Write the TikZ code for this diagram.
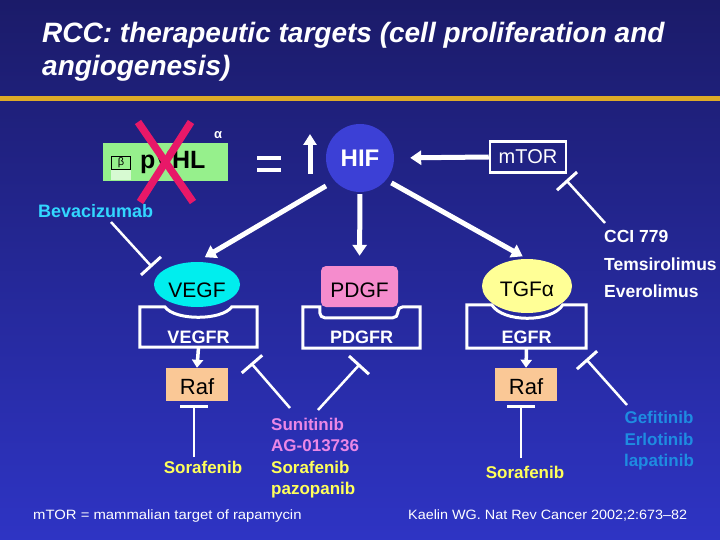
\documentclass[tikz,border=0pt]{standalone}
\usepackage{fontspec}
\setmainfont{Liberation Sans}
\usetikzlibrary{arrows.meta,shapes.geometric}
\definecolor{bgtop}{RGB}{27,27,105}
\definecolor{bgbot}{RGB}{46,52,196}
\definecolor{gold}{RGB}{222,170,40}
\definecolor{vhlgreen}{RGB}{150,240,140}
\definecolor{vhllight}{RGB}{215,250,210}
\definecolor{xred}{RGB}{232,24,104}
\definecolor{hifblue}{RGB}{60,64,214}
\definecolor{vegfcyan}{RGB}{0,238,238}
\definecolor{pdgfpink}{RGB}{245,140,205}
\definecolor{tgfyellow}{RGB}{255,255,150}
\definecolor{rafpeach}{RGB}{250,200,150}
\definecolor{bevcyan}{RGB}{50,215,255}
\definecolor{drugyellow}{RGB}{255,255,90}
\definecolor{drugpink}{RGB}{235,135,230}
\definecolor{drugblue}{RGB}{30,140,225}
\begin{document}
\begin{tikzpicture}[x=1pt,y=-1pt,
  fat/.style={white,line width=5pt,-{Triangle[width=14pt,length=11pt]}},
  small/.style={white,line width=3.5pt,-{Triangle[width=11pt,length=8pt]}},
  inh/.style={white,line width=2.5pt,-{Bar[width=27pt,line width=3pt]}},
  rec/.style={white,line width=3pt,line join=miter},
  lig/.style={inner sep=0pt,font=\fontsize{21}{21}\selectfont,text=black,text depth=0pt},
  rlab/.style={inner sep=0pt,font=\bfseries\fontsize{18}{18}\selectfont,text=white},
  drug/.style={inner sep=0pt,font=\bfseries\fontsize{17}{21}\selectfont,anchor=base west},
  ttl/.style={inner sep=0pt,anchor=base west,text=white,font=\bfseries\itshape\fontsize{28}{30}\selectfont},
  foot/.style={inner sep=0pt,text=white,font=\fontsize{13.5}{14}\selectfont,anchor=base west}]
\useasboundingbox (0,0) rectangle (720,540);
\shade[top color=bgtop,bottom color=bgbot] (0,0) rectangle (720,540);
\fill[gold] (0,96) rectangle (720,101);
% title
\node[ttl] (t1) at (42,43) {RCC: therapeutic targets (cell proliferation and};
\node[ttl] (t2) at (42,76) {angiogenesis)};
% pVHL
\node[fill=vhlgreen,minimum width=125pt,minimum height=38pt,inner sep=0pt] (vhl) at (165.5,162) {};
\fill[vhllight] (111,169) rectangle (131,180);
\node[draw=black,line width=0.8pt,fill=vhlgreen,minimum width=19pt,minimum height=13pt,inner sep=0pt,font=\fontsize{11}{11}\selectfont] (beta) at (121,162.5) {β};
\node[inner sep=0pt,anchor=base west,font=\bfseries\fontsize{25}{25}\selectfont] (vtxt) at (140,169) {pVHL};
\node[inner sep=0pt,text=white,font=\bfseries\fontsize{13}{13}\selectfont] (alpha) at (218,135) {α};
\coordinate (x1) at (138,122); \coordinate (x2) at (193,202);
\coordinate (x3) at (191,122); \coordinate (x4) at (140,202);
\draw[xred,line width=7.5pt] (x1) -- (x2);
\draw[xred,line width=7.5pt] (x3) -- (x4);
% equals and up arrow
\fill[white] (257,156) rectangle (281,160);
\fill[white] (257,168) rectangle (281,172);
\coordinate (ua1) at (310,174); \coordinate (ua2) at (310,134);
\draw[white,line width=5pt,-{Triangle[width=13pt,length=11pt]}] (ua1) -- (ua2);
% HIF and mTOR
\node[circle,fill=hifblue,minimum size=68pt,inner sep=0pt,text=white,font=\bfseries\fontsize{24}{24}\selectfont] (hif) at (360,158) {HIF};
\node[draw=white,line width=2.5pt,minimum width=76pt,minimum height=31pt,inner sep=0pt,text=white,font=\fontsize{20}{20}\selectfont] (mtor) at (528,157) {mTOR};
\draw[fat,shorten >=16pt] (mtor.west) -- (hif.east);
% receptors
\node[minimum width=117pt,minimum height=40pt,inner sep=0pt] (vegfr) at (198.5,327) {};
\draw[rec] (vegfr.north west) -- ++(25,0) .. controls +(10,14) and +(-10,14) .. ++(67,0) -- (vegfr.north east) -- (vegfr.south east) -- (vegfr.south west) -- cycle;
\node[rlab] (vegfrl) at (198.5,337) {VEGFR};
\node[minimum width=117pt,minimum height=41pt,inner sep=0pt] (pdgfr) at (361.5,327.5) {};
\draw[rec] (pdgfr.north west) -- ++(17,0) [rounded corners=5pt] -- ++(0,11) -- ++(78,0) -- ++(0,-11) [sharp corners] -- (pdgfr.north east) -- (pdgfr.south east) -- (pdgfr.south west) -- cycle;
\node[rlab] (pdgfrl) at (361.5,337) {PDGFR};
\node[minimum width=119pt,minimum height=43pt,inner sep=0pt] (egfr) at (526.5,326.5) {};
\draw[rec] (egfr.north west) -- ++(25,0) .. controls +(11,18) and +(-11,18) .. ++(71,0) -- (egfr.north east) -- (egfr.south east) -- (egfr.south west) -- cycle;
\node[rlab] (egfrl) at (526.5,337) {EGFR};
% ligands
\node[ellipse,fill=vegfcyan,minimum width=86pt,minimum height=45pt,lig,text height=25pt] (vegf) at (197,284.5) {VEGF};
\node[rectangle,rounded corners=5pt,fill=pdgfpink,minimum width=77pt,minimum height=41pt,lig,text height=21pt] (pdgf) at (359.5,286.5) {PDGF};
\node[ellipse,fill=tgfyellow,minimum width=90pt,minimum height=54pt,lig,text height=20pt] (tgf) at (527,286) {TGFα};
% HIF arrows
\draw[fat,shorten <=10pt,shorten >=9pt] (hif.222) -- (vegf.north);
\draw[fat,shorten <=2pt,shorten >=10pt] (hif.south) -- (pdgf.north);
\draw[fat,shorten <=6pt,shorten >=5pt] (hif.-40) -- (tgf.north);
% Raf
\node[fill=rafpeach,minimum width=62pt,minimum height=33pt,lig,text height=19pt,font=\fontsize{22}{22}\selectfont] (raf1) at (197,384.5) {Raf};
\node[fill=rafpeach,minimum width=62pt,minimum height=33pt,lig,text height=19pt,font=\fontsize{22}{22}\selectfont] (raf2) at (526,384.5) {Raf};
\draw[small] (vegfr.south) -- (raf1.north);
\draw[small] (egfr.south) -- (raf2.north);
% drug labels
\node[drug,text=bevcyan,font=\bfseries\fontsize{18}{21}\selectfont] (bev) at (38,218) {Bevacizumab};
\node[drug,text=white,font=\bfseries\fontsize{17.5}{21}\selectfont] (cci1) at (604,242) {CCI 779};
\node[drug,text=white,font=\bfseries\fontsize{17.5}{21}\selectfont] (cci2) at (604,270) {Temsirolimus};
\node[drug,text=white,font=\bfseries\fontsize{17.5}{21}\selectfont] (cci3) at (604,297) {Everolimus};
\node[drug,text=drugpink] (mid1) at (271,430) {Sunitinib};
\node[drug,text=drugpink] (mid2) at (271,451) {AG-013736};
\node[drug,text=drugyellow] (mid3) at (271,473) {Sorafenib};
\node[drug,text=drugyellow] (mid4) at (271,494) {pazopanib};
\node[drug,text=drugblue,anchor=base] (gef1) at (659,423) {Gefitinib};
\node[drug,text=drugblue,anchor=base] (gef2) at (659,445) {Erlotinib};
\node[drug,text=drugblue,anchor=base] (gef3) at (659,466) {lapatinib};
\node[drug,text=drugyellow,anchor=base] (sor1) at (203,473) {Sorafenib};
\node[drug,text=drugyellow,anchor=base] (sor2) at (525,478) {Sorafenib};
% inhibition connectors
\coordinate (bevs) at (111,222); \coordinate (bevt) at (152,267);
\draw[inh] (bevs) -- (bevt);
\coordinate (ccis) at (605,223); \coordinate (ccit) at (566,180);
\draw[inh] (ccis) -- (ccit);
\coordinate (m1s) at (290,408); \coordinate (m1t) at (251,363);
\draw[inh] (m1s) -- (m1t);
\coordinate (m2s) at (318,410); \coordinate (m2t) at (360,364);
\draw[inh] (m2s) -- (m2t);
\coordinate (gs) at (627,405); \coordinate (gt) at (586,359);
\draw[inh] (gs) -- (gt);
\coordinate (s1s) at (194,457); \coordinate (s1t) at (194,405);
\draw[inh,-{Bar[width=28pt,line width=3pt]}] (s1s) -- (s1t);
\coordinate (s2s) at (521,458); \coordinate (s2t) at (521,405);
\draw[inh,-{Bar[width=28pt,line width=3pt]}] (s2s) -- (s2t);
% footer
\node[foot] (f1) at (33,519) {\scalebox{1.1}[1]{mTOR = mammalian target of rapamycin}};
\node[foot] (f2) at (408,519) {\scalebox{1.065}[1]{Kaelin WG. Nat Rev Cancer 2002;2:673–82}};
\end{tikzpicture}
\end{document}
